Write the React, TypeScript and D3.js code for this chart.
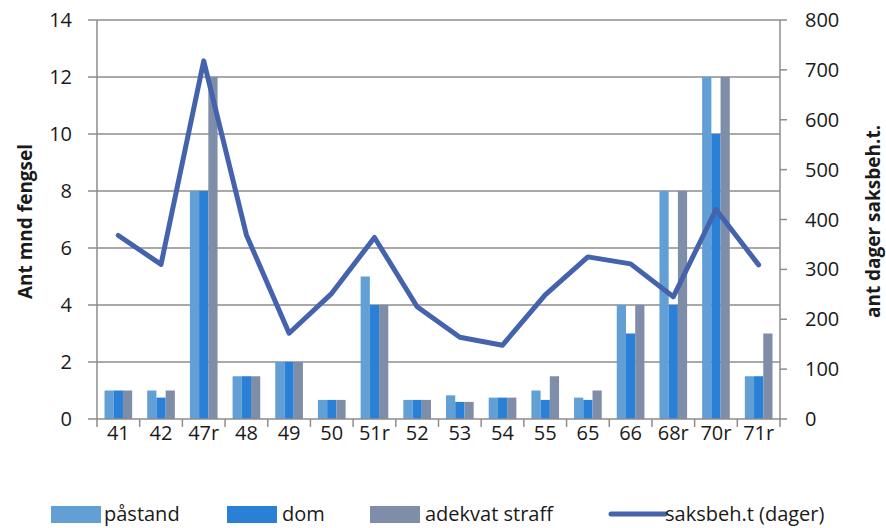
import React from "react";
import * as d3 from "d3";

const categories = ["41", "42", "47r", "48", "49", "50", "51r", "52", "53", "54", "55", "65", "66", "68r", "70r", "71r"];
const pastand = [1, 1, 8, 1.5, 2, 0.67, 5, 0.67, 0.83, 0.75, 1, 0.75, 4, 8, 12, 1.5];
const dom = [1, 0.75, 8, 1.5, 2, 0.67, 4, 0.67, 0.6, 0.75, 0.67, 0.67, 3, 4, 10, 1.5];
const adekvat = [1, 1, 12, 1.5, 2, 0.67, 4, 0.67, 0.6, 0.75, 1.5, 1, 4, 8, 12, 3];
const saksbeh = [368, 310, 718, 369, 172, 252, 364, 225, 164, 148, 249, 325, 311, 245, 420, 309];
const leftTicks = [0, 2, 4, 6, 8, 10, 12, 14];
const rightTicks = [0, 100, 200, 300, 400, 500, 600, 700, 800];
const seriesNames = ["påstand", "dom", "adekvat straff", "saksbeh.t (dager)"];

const W = 886, H = 528;
const left = 97, right = 780, top = 20, bottom = 419;
const colors = ["#629fd4", "#2a7fd6", "#7f8ea8"];
const lineColor = "#4563ad";
const gridColor = "#8d8d8d";
const font = "'Open Sans', sans-serif";

export default function App() {
  const x = d3.scaleBand<string>().domain(categories).range([left, right]);
  const yL = d3.scaleLinear().domain([0, 14]).range([bottom, top]);
  const yR = d3.scaleLinear().domain([0, 800]).range([bottom, top]);
  const bw = x.bandwidth();
  const barW = bw * 0.216;
  const groupOff = (bw - barW * 3) / 2;
  const series = [pastand, dom, adekvat];
  const line = d3.line<number>()
    .x((_, i) => (x(categories[i]) as number) + bw / 2)
    .y((d) => yR(d));
  const boundaries = categories.map((c) => x(c) as number).concat([right]);

  const legendItems = [
    { sx: 51, tx: 104, label: seriesNames[0], type: "bar", color: colors[0] },
    { sx: 227, tx: 282, label: seriesNames[1], type: "bar", color: colors[1] },
    { sx: 370, tx: 425, label: seriesNames[2], type: "bar", color: colors[2] },
    { sx: 611, tx: 665, label: seriesNames[3], type: "line", color: lineColor },
  ];

  return (
    <svg width={W} height={H} style={{ position: "absolute", left: 0, top: 0, background: "#fff" }} fontFamily={font}>
      {leftTicks.filter((t) => t > 0).map((t) => (
        <line key={"g" + t} x1={left} x2={right} y1={yL(t)} y2={yL(t)} stroke={gridColor} strokeWidth={1.5} />
      ))}
      {series.map((s, si) =>
        s.map((v, i) => (
          <rect key={`b${si}-${i}`} x={(x(categories[i]) as number) + groupOff + si * barW} y={yL(v)}
            width={barW} height={bottom - yL(v)} fill={colors[si]} />
        ))
      )}
      <line x1={left} x2={left} y1={top} y2={bottom} stroke={gridColor} strokeWidth={1.5} />
      <line x1={right} x2={right} y1={top} y2={bottom} stroke={gridColor} strokeWidth={1.5} />
      <line x1={left} x2={right} y1={bottom} y2={bottom} stroke={gridColor} strokeWidth={1.5} />
      {leftTicks.map((t) => (
        <g key={"lt" + t}>
          <line x1={left - 9} x2={left} y1={yL(t)} y2={yL(t)} stroke={gridColor} strokeWidth={1.5} />
          <text x={72} y={yL(t)} dy="0.35em" textAnchor="end" fontSize={20} fill="#1a1a1a">{t}</text>
        </g>
      ))}
      {rightTicks.map((t) => (
        <g key={"rt" + t}>
          <line x1={right} x2={right + 7} y1={yR(t)} y2={yR(t)} stroke={gridColor} strokeWidth={1.5} />
          <text x={805} y={yR(t)} dy="0.35em" textAnchor="start" fontSize={20} fill="#1a1a1a">{t}</text>
        </g>
      ))}
      {boundaries.map((b, i) => (
        <line key={"xt" + i} x1={b} x2={b} y1={bottom} y2={bottom + 8} stroke={gridColor} strokeWidth={1.5} />
      ))}
      {categories.map((c) => (
        <text key={"xl" + c} x={(x(c) as number) + bw / 2} y={440} textAnchor="middle" fontSize={20} fill="#1a1a1a">{c}</text>
      ))}
      <path d={line(saksbeh) || ""} fill="none" stroke={lineColor} strokeWidth={5} strokeLinejoin="round" strokeLinecap="round" />
      <text transform={`translate(32,${(top + bottom) / 2 + 2}) rotate(-90)`} textAnchor="middle" fontSize={19} fontWeight="bold" fill="#1a1a1a">Ant mnd fengsel</text>
      <text transform={`translate(880,${(top + bottom) / 2 + 2}) rotate(-90)`} textAnchor="middle" fontSize={19} fontWeight="bold" fill="#1a1a1a">ant dager saksbeh.t.</text>
      {legendItems.map((it) => (
        <g key={it.label}>
          {it.type === "bar" ? (
            <rect x={it.sx} y={506} width={50} height={17} fill={it.color} />
          ) : (
            <line x1={it.sx} x2={it.sx + 54} y1={514} y2={514} stroke={it.color} strokeWidth={5} strokeLinecap="round" />
          )}
          <text x={it.tx} y={521} fontSize={20} fill="#1a1a1a">{it.label}</text>
        </g>
      ))}
    </svg>
  );
}
